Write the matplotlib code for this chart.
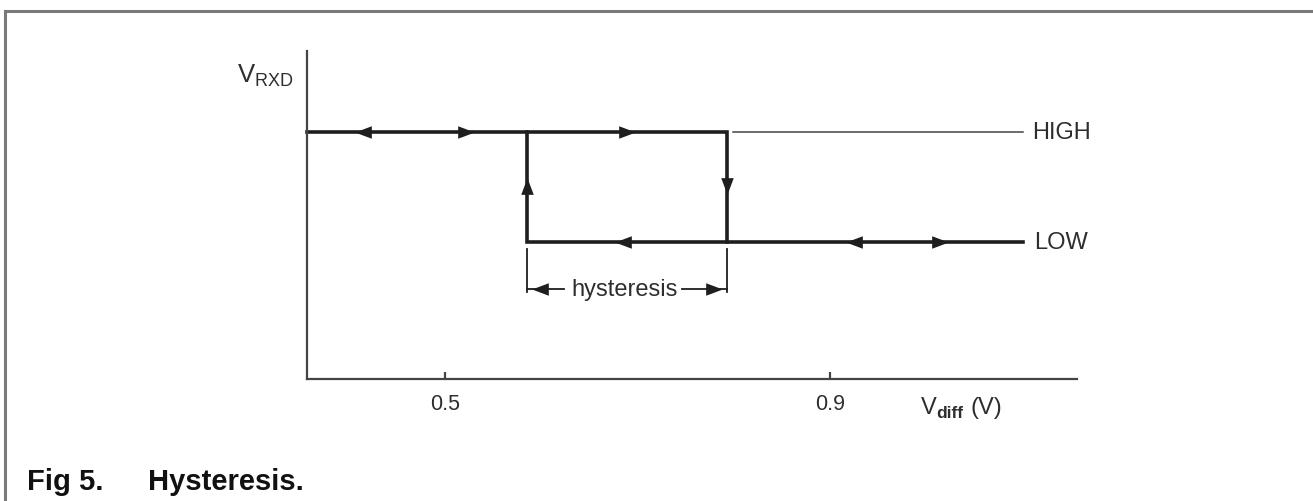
import matplotlib
matplotlib.use("Agg")
import matplotlib.pyplot as plt
from matplotlib.path import Path
import matplotlib.lines as mlines

plt.rcParams["font.family"] = ["Liberation Sans", "DejaVu Sans"]

# chart values (x in volts, y in arbitrary level units)
x_ticks = [0.5, 0.9]
x_tick_labels = ["0.5", "0.9"]
v_low_th = 0.585      # switch LOW -> HIGH going left
v_high_th = 0.793     # switch HIGH -> LOW going right
x_start = 0.3566
x_end = 1.10
y_high = 1.0
y_low = 0.555

# arrow markers: (x, y, direction)
arrows = [
    (0.415, y_high, "left"),
    (0.522, y_high, "right"),
    (0.689, y_high, "right"),
    (0.685, y_low, "left"),
    (0.925, y_low, "left"),
    (1.014, y_low, "right"),
    (v_low_th, 0.78, "up"),
    (v_high_th, 0.78, "down"),
]

ink = "#1e1e1e"
grey = "#444444"
txt = "#2e2e2e"

W, H = 1313, 502
fig = plt.figure(figsize=(W / 100, H / 100), dpi=100)
fig.patch.set_facecolor("white")

# outer frame: top and left only
fig.add_artist(mlines.Line2D([5 / W, 1], [1 - 12 / H, 1 - 12 / H], color="#7a7a7a", lw=2.2))
fig.add_artist(mlines.Line2D([5 / W, 5 / W], [0, 1 - 12 / H], color="#7a7a7a", lw=2.2))

ax = fig.add_axes([307 / W, 122 / H, (1077 - 307) / W, (380 - 52) / H])
ax.set_xlim(x_start, 1.1566)
ax.set_ylim(0, 1.328)
for s in ["top", "right"]:
    ax.spines[s].set_visible(False)
for s in ["left", "bottom"]:
    ax.spines[s].set_color(grey)
    ax.spines[s].set_linewidth(1.6)
ax.set_yticks([])
ax.set_xticks(x_ticks)
ax.set_xticklabels(x_tick_labels)
ax.tick_params(axis="x", direction="in", length=5, width=1.6, color=grey,
               labelsize=15.5, labelcolor=txt, pad=10)

lw_thick = 2.6
# HIGH path
ax.plot([x_start, v_high_th, v_high_th], [y_high, y_high, y_low], color=ink, lw=lw_thick,
        solid_joinstyle="miter", clip_on=False)
ax.plot([0.799, x_end], [y_high, y_high], color=grey, lw=1.1)
# LOW path
ax.plot([v_low_th, v_low_th, x_end], [y_high, y_low, y_low], color=ink, lw=lw_thick,
        solid_joinstyle="miter")
ax.text(x_end + 0.010, y_high, "HIGH", fontsize=17, color=txt, va="center", ha="left")
ax.text(x_end + 0.012, y_low, "LOW", fontsize=17, color=txt, va="center", ha="left")

# arrowhead markers
hw = 0.75
head = {
    "right": Path([(-1, -hw), (1, 0), (-1, hw), (-1, -hw)]),
    "left": Path([(1, -hw), (-1, 0), (1, hw), (1, -hw)]),
    "up": Path([(-hw, -1), (0, 1), (hw, -1), (-hw, -1)]),
    "down": Path([(-hw, 1), (0, -1), (hw, 1), (-hw, 1)]),
}
for xa, ya, d in arrows:
    ax.plot(xa, ya, marker=head[d], markersize=12, color=ink, mec=ink, mew=0)

# hysteresis bracket
y_br = 0.364
ax.plot([v_low_th, v_low_th], [0.527, 0.352], color=ink, lw=1.3)
ax.plot([v_high_th, v_high_th], [0.527, 0.352], color=ink, lw=1.3)
ax.plot([v_low_th, 0.624], [y_br, y_br], color=ink, lw=1.3)
ax.plot([0.746, v_high_th], [y_br, y_br], color=ink, lw=1.3)
ax.plot(v_low_th + 0.014, y_br, marker=head["left"], markersize=12, color=ink, mew=0)
ax.plot(v_high_th - 0.014, y_br, marker=head["right"], markersize=12, color=ink, mew=0)
ax.text(0.687, y_br, "hysteresis", fontsize=17, color=txt, ha="center", va="center")

# axis labels
fig.text(237 / W, 1 - 76 / H, r"$\mathregular{V_{RXD}}$", fontsize=18.5, color=txt,
         ha="left", va="center")
fig.text(921 / W, 1 - 408 / H, "V", fontsize=17, color=txt, ha="left", va="center")
fig.text(936 / W, 1 - 414 / H, "diff", fontsize=12.5, fontweight="bold", color=txt,
         ha="left", va="center")
fig.text(971 / W, 1 - 408 / H, "(V)", fontsize=17, color=txt, ha="left", va="center")

# caption
fig.text(27 / W, 1 - 482 / H, "Fig 5.", fontsize=21, fontweight="bold", color="#111111",
         ha="left", va="center")
fig.text(148 / W, 1 - 482 / H, "Hysteresis.", fontsize=21, fontweight="bold", color="#111111",
         ha="left", va="center")

fig.savefig("out.png", dpi=100)
